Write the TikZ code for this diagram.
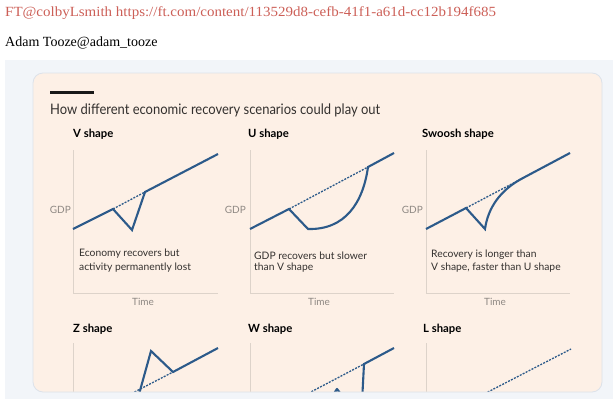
\documentclass[tikz,border=0pt]{standalone}
\usepackage{fontspec}
\setmainfont{Lato}
\newfontfamily\headserifA[FakeStretch=1.07]{Liberation Serif}
\newfontfamily\headserifB{Liberation Serif}
\newfontfamily\titlefont[FakeStretch=0.895]{Lato}
\definecolor{bgblue}{HTML}{F2F5F9}
\definecolor{cardfill}{HTML}{FDF0E6}
\definecolor{cardborder}{HTML}{DCE2EA}
\definecolor{ftblue}{HTML}{2C5A8A}
\definecolor{ftred}{HTML}{CC5F57}
\definecolor{axisgray}{HTML}{DDD3CA}
\definecolor{labgray}{HTML}{8E8883}
\definecolor{txt}{HTML}{33302E}
\tikzset{
  hd/.style={inner sep=0pt, anchor=west},
  ttl/.style={inner sep=0pt, anchor=west, text=txt, font=\titlefont\fontsize{14.5}{18}\selectfont},
  plab/.style={inner sep=0pt, anchor=west, text=black, font=\bfseries\fontsize{11.3}{13}\selectfont},
  body/.style={inner sep=0pt, anchor=west, text=txt, font=\fontsize{10.3}{12}\selectfont},
  glab/.style={inner sep=0pt, text=labgray, font=\fontsize{10}{12}\selectfont},
  axisline/.style={draw=axisgray, line width=0.8pt},
  gdpline/.style={draw=ftblue, line width=2.1pt, line join=miter},
  trendline/.style={draw=ftblue, line width=1.3pt, dash pattern=on 2pt off 1.3pt}
}
\begin{document}
\begin{tikzpicture}[x=1pt,y=-1pt]
\useasboundingbox (0,0) rectangle (613,399);
% header
\node[hd, text=ftred, font=\headserifA\fontsize{14}{16}\selectfont] (h1) at (5,13) {FT@colbyLsmith https://ft.com/content/113529d8-cefb-41f1-a61d-cc12b194f685};
\node[hd, text=black, font=\headserifB\fontsize{14}{16}\selectfont] (h2) at (5,43) {Adam Tooze@adam\_tooze};
% backgrounds
\fill[bgblue] (5,60) rectangle (613,399);
\path[draw=cardborder, line width=0.8pt, fill=cardfill, rounded corners=10pt] (33,73) rectangle (602,392);
% title
\draw[line width=3pt, draw=black!90] (50,92) -- (94,92);
\node[ttl] (title) at (50,110) {How different economic recovery scenarios could play out};

% ---------- V shape
\node[plab] (vlab) at (73,134) {V shape};
\draw[axisline] (73,150) -- (73,293) -- (218,293);
\node[glab, anchor=east] (vgdp) at (71,210) {GDP};
\node[glab] (vtime) at (143,302) {Time};
\draw[trendline] (113,209) -- (145,192);
\draw[gdpline] (73,229) -- (113,209) -- (132,230) -- (145,192) -- (218,154);
\node[body] (vt1) at (79,254) {Economy recovers but};
\node[body] (vt2) at (79,268) {activity permanently lost};

% ---------- U shape
\node[plab] (ulab) at (248,134) {U shape};
\draw[axisline] (250,150) -- (250,293) -- (394,293);
\node[glab, anchor=east] (ugdp) at (246,210) {GDP};
\node[glab] (utime) at (319,302) {Time};
\draw[trendline] (289,209) -- (368,167);
\draw[gdpline] (250,229) -- (289,209) -- (308,229) .. controls (345,230) and (363,203) .. (368,167) -- (394,153);
\node[body] (ut1) at (254,256) {GDP recovers but slower};
\node[body] (ut2) at (254,268) {than V shape};

% ---------- Swoosh shape
\node[plab] (slab) at (422,134) {Swoosh shape};
\draw[axisline] (426,150) -- (426,293) -- (570,293);
\node[glab, anchor=east] (sgdp) at (423,210) {GDP};
\node[glab] (stime) at (495,302) {Time};
\draw[trendline] (466,208) -- (523,178);
\draw[gdpline] (426,229) -- (466,208) -- (485,229) .. controls (488,208) and (500,190) .. (523,178) -- (570,153);
\node[body] (st1) at (431,255) {Recovery is longer than};
\node[body] (st2) at (431,268) {V shape, faster than U shape};

% ---------- bottom row
\node[plab] (zlab) at (73,329) {Z shape};
\node[plab] (wlab) at (248,329) {W shape};
\node[plab] (llab) at (423,329) {L shape};
\begin{scope}
\clip[rounded corners=10pt] (33,73) rectangle (602,391.5);
\draw[axisline] (73,343) -- (73,400);
\draw[axisline] (250,343) -- (250,400);
\draw[axisline] (426,343) -- (426,400);
% Z
\draw[trendline] (73,424) -- (173,372);
\draw[gdpline] (136,405) -- (151,351) -- (173,372) -- (218,348);
% W
\draw[trendline] (250,424) -- (364,364);
\draw[gdpline] (362,402) -- (364,364) -- (394,348);
\draw[gdpline, line join=round] (331,398) -- (337,389) -- (344,398);
% L
\draw[trendline] (426,424) -- (571,349);
\end{scope}
\end{tikzpicture}
\end{document}
